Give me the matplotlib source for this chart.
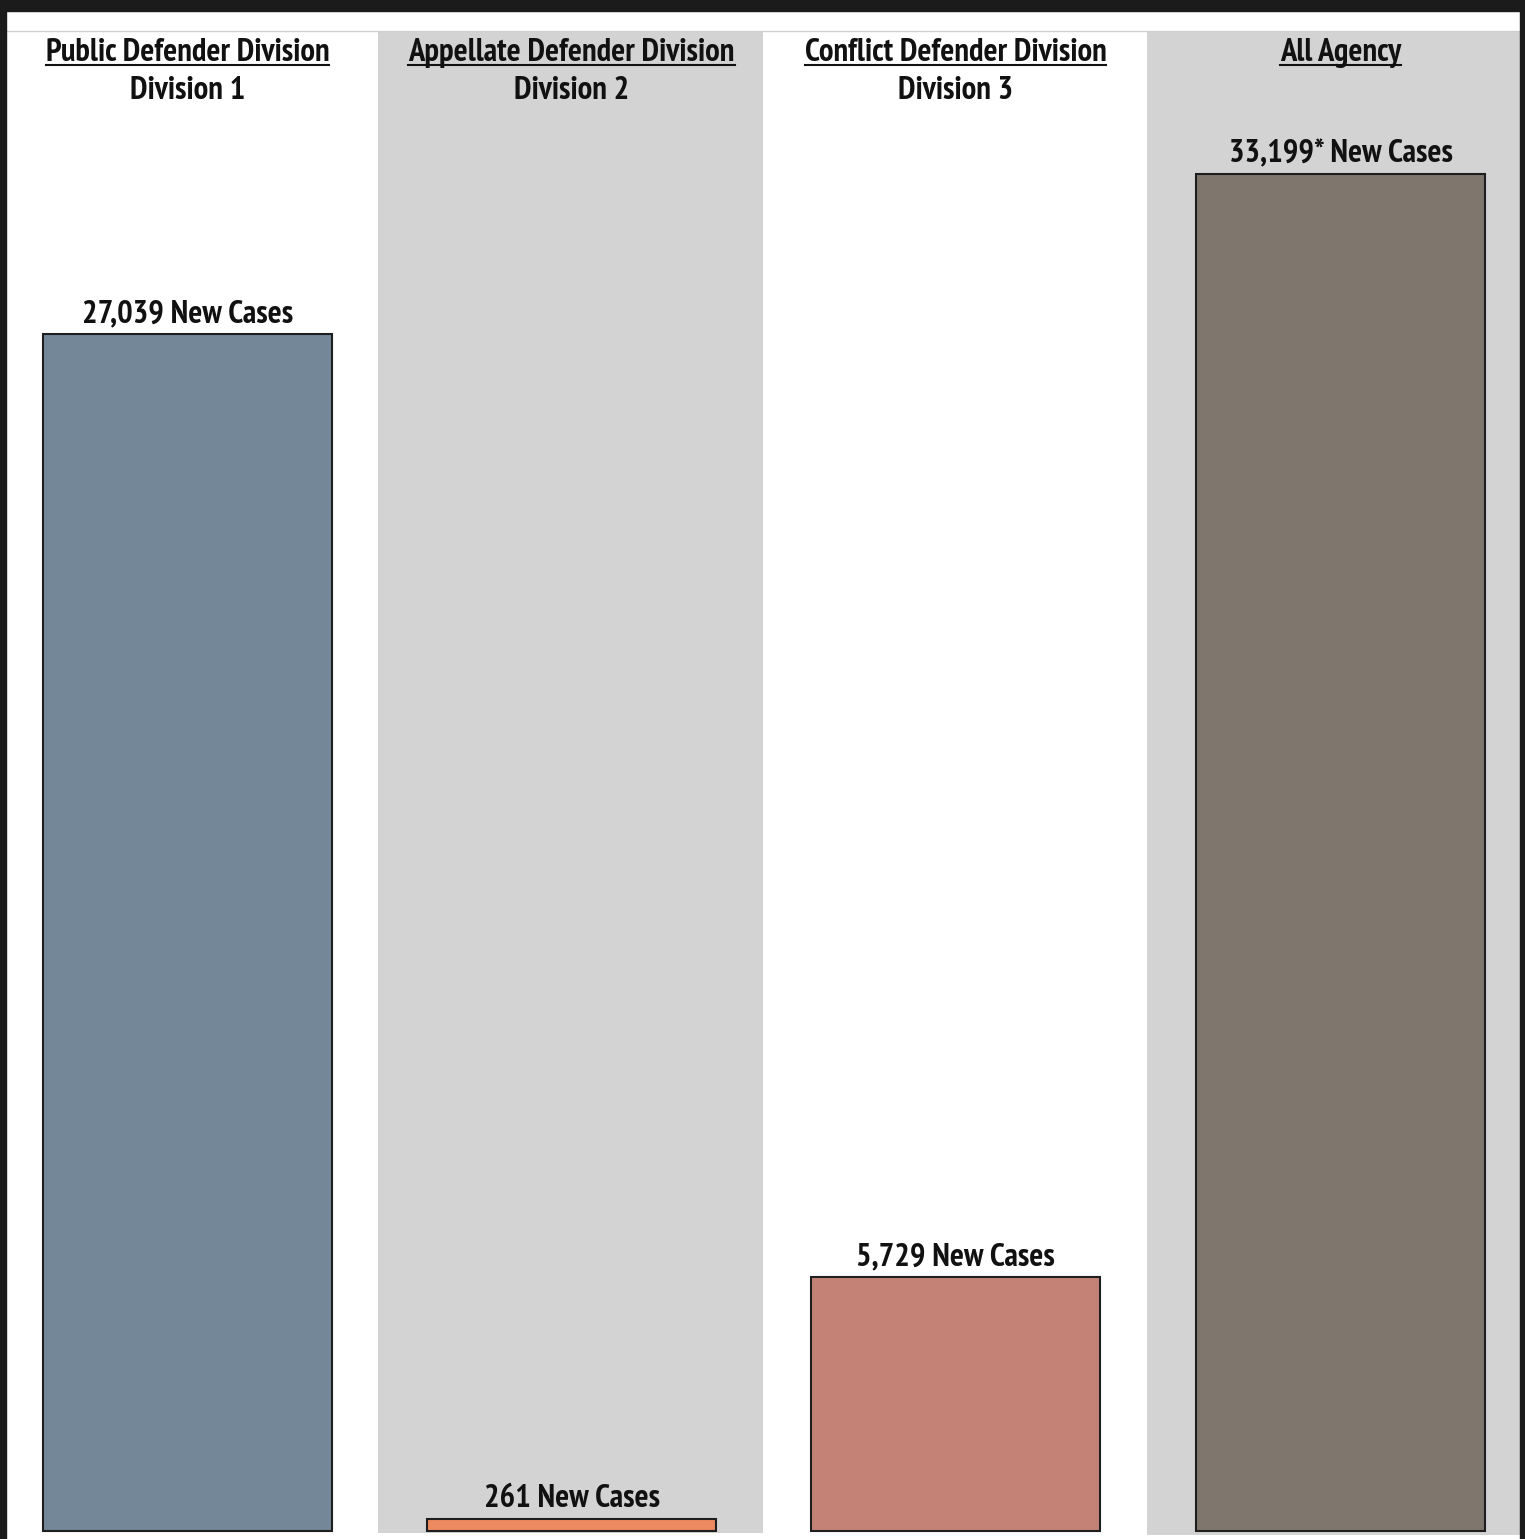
import matplotlib
matplotlib.use("Agg")
import matplotlib.pyplot as plt
from matplotlib.patches import Rectangle
from matplotlib.lines import Line2D

# data
divisions = ["Public Defender Division", "Appellate Defender Division",
             "Conflict Defender Division", "All Agency"]
subtitles = ["Division 1", "Division 2", "Division 3", ""]
new_cases = [27039, 261, 5729, 33199]
value_labels = ["27,039 New Cases", "261 New Cases", "5,729 New Cases", "33,199* New Cases"]

bar_colors = ["#738799", "#EE8A62", "#C48276", "#7F766D"]
panel_colors = ["white", "#D3D3D3", "white", "#D3D3D3"]

W, H = 1525, 1539
FONT = ["PT Sans Narrow", "Liberation Sans", "DejaVu Sans"]
FS = 23.5

fig = plt.figure(figsize=(W / 100, H / 100), dpi=100, facecolor="white")


def fx(px):
	return px / W


def fy(py):
	return 1 - py / H


# column layout in pixels: (left, right, bottom), bars (left, right)
cols = [(6, 378, 1533), (378, 763, 1533), (763, 1147, 1533), (1147, 1520, 1535)]
bars = [(43, 332), (427, 716), (811, 1100), (1196, 1485)]
col_top = 31
base_px = 1530.5
ymax = [33900, 33900, 33900, 36700]

for i in range(4):
	cl, cr, cb = cols[i]
	ax = fig.add_axes([fx(cl), fy(cb), fx(cr - cl), (cb - col_top) / H])
	ax.set_facecolor(panel_colors[i])
	bl, br = bars[i]
	bw = br - bl
	ax.set_xlim(-0.5 - (bl - cl) / bw, 0.5 + (cr - br) / bw)
	s = (base_px - col_top) / ymax[i]
	ax.set_ylim(-(cb - base_px) / s, ymax[i])
	ax.bar(0, new_cases[i], width=1, color=bar_colors[i], edgecolor="#1e1e1e", linewidth=1.5)
	ax.annotate(value_labels[i], (0, new_cases[i]), xytext=(0, 14.5), textcoords="offset points",
		ha="center", va="center", fontsize=FS, fontweight="bold", family=FONT, color="#111111")
	for sp in ax.spines.values():
		sp.set_visible(False)
	ax.set_xticks([])
	ax.set_yticks([])

	# headings, centred over the bar
	cx = fx((bl + br) / 2)
	t = fig.text(cx, fy(53), divisions[i], ha="center", va="center", fontsize=FS,
		fontweight="bold", family=FONT, color="#111111")
	t.underline = True
	if subtitles[i]:
		fig.text(cx, fy(91), subtitles[i], ha="center", va="center", fontsize=FS,
			fontweight="bold", family=FONT, color="#111111")

# underline the division names
fig.canvas.draw()
renderer = fig.canvas.get_renderer()
for t in fig.texts:
	if getattr(t, "underline", False):
		bb = t.get_window_extent(renderer)
		fig.add_artist(Line2D([bb.x0 / W, bb.x1 / W], [fy(64.5)] * 2, transform=fig.transFigure,
			color="#111111", linewidth=1.5))

# thin line above the columns
fig.add_artist(Line2D([fx(6), fx(1520)], [fy(col_top)] * 2, transform=fig.transFigure,
	color="#D0D0D0", linewidth=1))

# dark frame
frame = "#1B1B1B"
fig.add_artist(Rectangle((0, fy(11)), 1, 11 / H, transform=fig.transFigure, color=frame, zorder=10))
fig.add_artist(Rectangle((0, 0), fx(6), 1, transform=fig.transFigure, color=frame, zorder=10))
fig.add_artist(Rectangle((fx(1520), 0), fx(5), 1, transform=fig.transFigure, color=frame, zorder=10))

fig.savefig("out.png", dpi=100, facecolor=fig.get_facecolor())
